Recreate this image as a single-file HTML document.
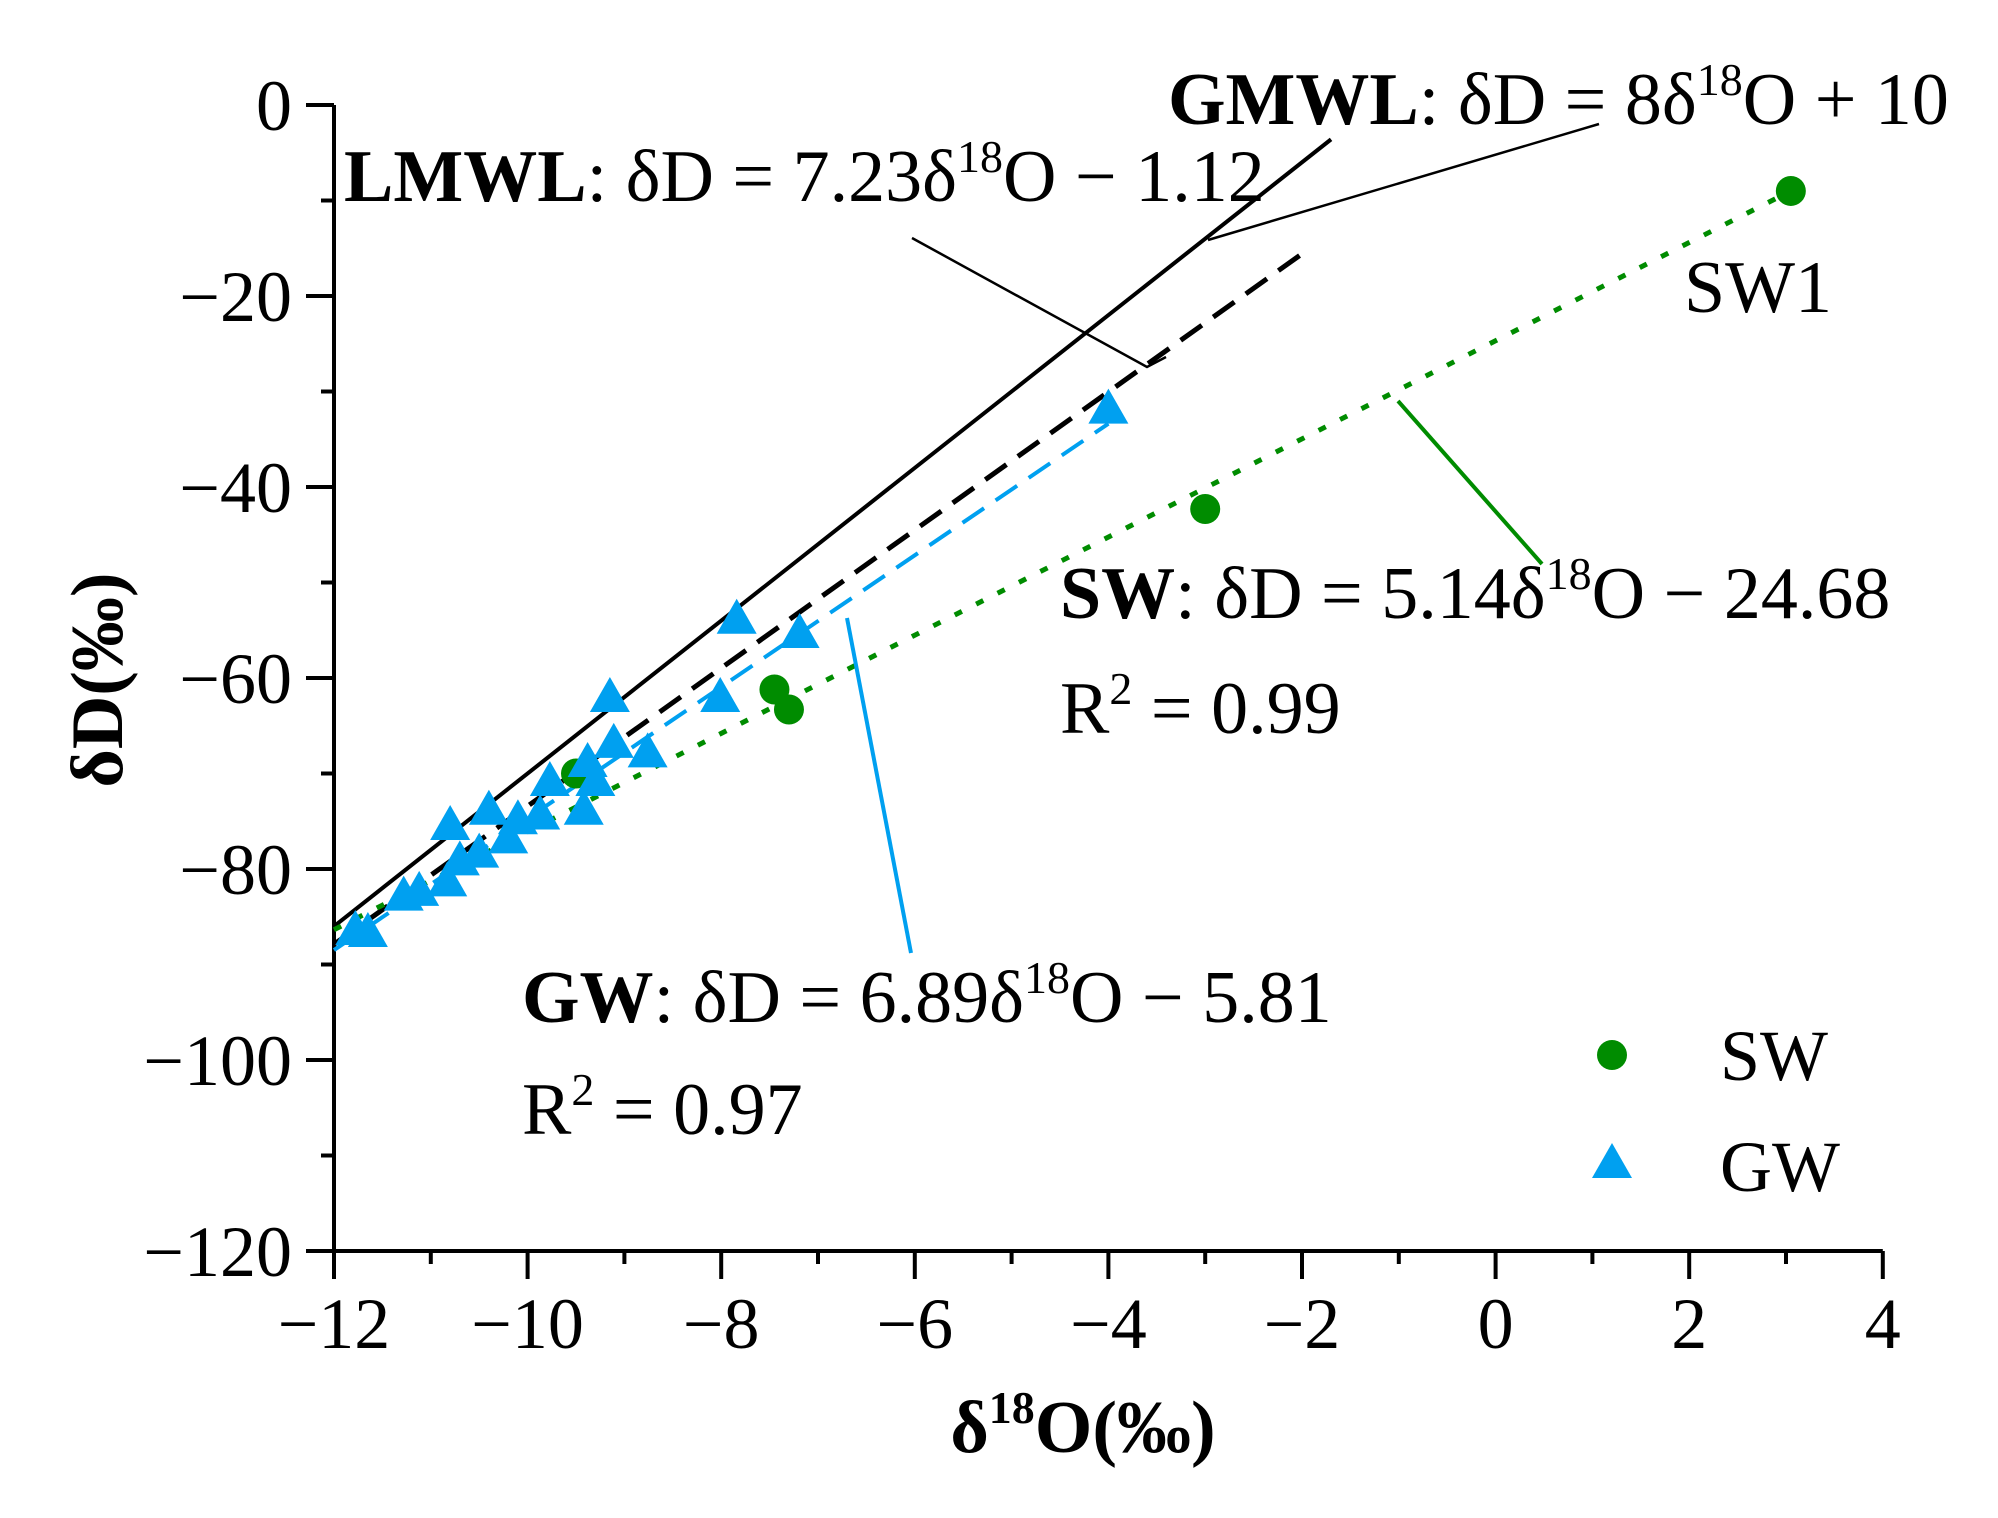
<!DOCTYPE html>
<html><head><meta charset="utf-8"><style>
html,body{margin:0;padding:0;background:#fff}
svg{display:block;font-family:"Liberation Serif",serif}
</style></head><body>
<svg id="chart" width="1998" height="1518" viewBox="0 0 1998 1518">
<g id="axes"></g>
<g id="lines"></g>
<g id="marks"></g>
<g font-size="74" fill="#000">
<text x="1168" y="124"><tspan font-weight="bold">GMWL</tspan>: δD = 8δ<tspan font-size="46" dy="-29">18</tspan><tspan dy="29">O + 10</tspan></text>
<text x="344" y="201"><tspan font-weight="bold">LMWL</tspan>: δD = 7.23δ<tspan font-size="46" dy="-29">18</tspan><tspan dy="29">O − 1.12</tspan></text>
<text x="1684" y="312">SW1</text>
<text x="1060" y="618"><tspan font-weight="bold">SW</tspan>: δD = 5.14δ<tspan font-size="46" dy="-29">18</tspan><tspan dy="29">O − 24.68</tspan></text>
<text x="1060" y="733">R<tspan font-size="46" dy="-29">2</tspan><tspan dy="29"> = 0.99</tspan></text>
<text x="522" y="1022"><tspan font-weight="bold">GW</tspan>: δD = 6.89δ<tspan font-size="46" dy="-29">18</tspan><tspan dy="29">O − 5.81</tspan></text>
<text x="522" y="1134">R<tspan font-size="46" dy="-29">2</tspan><tspan dy="29"> = 0.97</tspan></text>
<polyline points="1208,240 1599,124" fill="none" stroke="#000" stroke-width="2.5"/>
<polyline points="912,238 1147,367 1166,357" fill="none" stroke="#000" stroke-width="2.5"/>
<polyline points="1398,401 1542,564" fill="none" stroke="#008c00" stroke-width="4"/>
<polyline points="847,618 911,953" fill="none" stroke="#00a0f0" stroke-width="4"/>
</g>
<g font-size="72">
<circle cx="1612" cy="1055" r="15" fill="#008c00"/>
<text x="1720" y="1080">SW</text>
<polygon points="1612,1143 1632,1178 1592,1178" fill="#00a0f0"/>
<text x="1720" y="1191">GW</text>
</g>
<text x="1083" y="1452" font-size="74" font-weight="bold" text-anchor="middle">δ<tspan font-size="46" dy="-29">18</tspan><tspan dy="29">O(‰)</tspan></text>
<text transform="translate(122,680) rotate(-90)" font-size="74" font-weight="bold" text-anchor="middle">δD(‰)</text>
</svg>
<script>
const swX = [3.05, -3.0, -7.45, -7.3, -9.5];
const swY = [-9, -42.3, -61.2, -63.3, -70];
const gwX = [-4.0, -7.84, -7.19, -8.01, -9.15, -8.76, -9.11, -9.38, -9.3, -9.42, -9.77, -9.87, -10.1, -10.2, -10.4, -10.5, -10.7, -10.8, -10.83, -11.12, -11.28, -11.65, -11.78];
const gwY = [-32, -54, -55.5, -62.2, -62.2, -68, -67, -69, -71, -74, -71, -74.5, -75, -77, -74, -78.5, -79.3, -75.6, -81.5, -82.5, -83, -86.8, -86.6];
const xTicks = [-12, -10, -8, -6, -4, -2, 0, 2, 4];
const yTicks = [0, -20, -40, -60, -80, -100, -120];
const gmwl = [8, 10, -12, -1.7];
const lmwl = [7.23, -1.12, -12, -2];
const gwLine = [6.89, -5.81, -12, -4];
const swLine = [5.14, -24.68, -12, 3];

const NS = "http://www.w3.org/2000/svg";
const X0 = 334, XS = 96.8, Y0 = 1251, YS = 9.55;
const sx = v => X0 + (v + 12) * XS;
const sy = v => Y0 - (v + 120) * YS;
function mk(tag, attrs, parent) { const e = document.createElementNS(NS, tag); for (const k in attrs) e.setAttribute(k, attrs[k]); parent.appendChild(e); return e; }
const axes = document.getElementById('axes');
let e = mk('line', {x1: sx(-12), y1: sy(-120), x2: sx(4), y2: sy(-120), stroke: '#000', 'stroke-width': 4}, axes);


e = mk('line', {x1: sx(-12), y1: sy(-120), x2: sx(-12), y2: sy(0), stroke: '#000', 'stroke-width': 4}, axes);


for (let v = -12; v <= 4; v++) {
  const major = v % 2 === 0;
  e = mk('line', {x1: sx(v), y1: Y0, x2: sx(v), y2: Y0 + (major ? 28 : 13), stroke: '#000', 'stroke-width': 4}, axes);
  
  
}
xTicks.forEach(v => {
  e = mk('text', {x: sx(v), y: 1348, 'font-size': 72, 'text-anchor': 'middle'}, axes);
  e.textContent = v < 0 ? '−' + Math.abs(v) : String(v);
  
  
});
for (let v = 0; v >= -120; v -= 10) {
  const major = v % 20 === 0;
  e = mk('line', {x1: X0, y1: sy(v), x2: X0 - (major ? 28 : 13), y2: sy(v), stroke: '#000', 'stroke-width': 4}, axes);
  
  
}
yTicks.forEach(v => {
  e = mk('text', {x: 292, y: sy(v) + 25, 'font-size': 72, 'text-anchor': 'end'}, axes);
  e.textContent = v < 0 ? '−' + Math.abs(v) : String(v);
  
  
});
const lines = document.getElementById('lines');
function regLine(p, color, dash, w, name) {
  const l = mk('line', {x1: sx(p[2]), y1: sy(p[0]*p[2]+p[1]), x2: sx(p[3]), y2: sy(p[0]*p[3]+p[1]), stroke: color, 'stroke-width': w, 'stroke-dasharray': dash}, lines);
  
  
}
const marks = document.getElementById('marks');
swX.forEach((x, i) => {
  const c = mk('circle', {cx: sx(x), cy: sy(swY[i]), r: 15, fill: '#008c00'}, marks);
  
  
});
gwX.forEach((x, i) => {
  const cx = sx(x), cy = sy(gwY[i]);
  const t = mk('polygon', {points: `${cx},${cy-22} ${cx+20},${cy+13} ${cx-20},${cy+13}`, fill: '#00a0f0'}, marks);
  
  
});
regLine(gmwl, '#000', 'none', 4, 'gmwl-line');
regLine(lmwl, '#000', '26,14', 5, 'lmwl-line');
regLine(gwLine, '#00a0f0', '26,14', 4, 'gw-regression-line');
regLine(swLine, '#008c00', '8,16', 5, 'sw-regression-line');
</script>
</body></html>
